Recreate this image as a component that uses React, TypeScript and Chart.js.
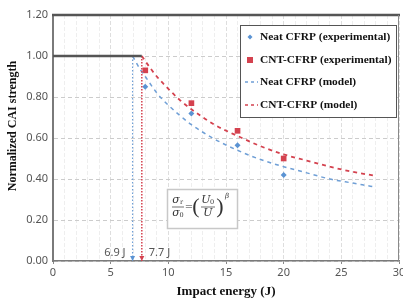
import React, { useEffect, useRef } from 'react';
import { Chart, registerables } from 'chart.js';

Chart.register(...registerables);

// ---- data ----
const neatEnergy = [8, 12, 16, 20];
const neatStrength = [0.85, 0.72, 0.565, 0.42];
const cntEnergy = [8, 12, 16, 20];
const cntStrength = [0.93, 0.77, 0.635, 0.5];
const neatModelEnergy = [6.9, 7.5, 8, 9, 10, 11, 12, 14, 16, 18, 20, 22, 24, 26, 28];
const neatModelStrength = [1.0, 0.94, 0.9, 0.82, 0.76, 0.71, 0.665, 0.595, 0.54, 0.495, 0.46, 0.43, 0.4, 0.38, 0.36];
const cntModelEnergy = [7.7, 8, 9, 10, 11, 12, 14, 16, 18, 20, 22, 24, 26, 28];
const cntModelStrength = [1.0, 0.975, 0.9, 0.84, 0.785, 0.74, 0.665, 0.61, 0.56, 0.52, 0.49, 0.46, 0.435, 0.415];
const plateauEnergy = [0, 7.7];
const plateauStrength = [1.0, 1.0];
const thresholdNeat = 6.9;
const thresholdCnt = 7.7;
const thresholdLabels = ['6.9 J', '7.7 J'];
const legendLabels = ['Neat CFRP (experimental)', 'CNT-CFRP (experimental)', 'Neat CFRP (model)', 'CNT-CFRP (model)'];
const xTitle = 'Impact energy (J)';
const yTitle = 'Normalized CAI strength';

const BLUE = '#5b93d3';
const BLUE_LINE = '#6f9fd6';
const RED = '#d4424f';
const SERIF = '"Liberation Serif", "Times New Roman", serif';
const SANS = '"Noto Sans", "Open Sans", sans-serif';
const toPts = (xs: number[], ys: number[]) => xs.map((x, i) => ({ x, y: ys[i] }));

const overlay = {
  id: 'overlay',
  afterDatasetsDraw(chart: any) {
    const { ctx, chartArea: a, scales } = chart;
    const xs = scales.x;
    const ys = scales.y;
    ctx.save();
    // frame
    ctx.strokeStyle = '#555';
    ctx.lineWidth = 2.5;
    ctx.beginPath();
    ctx.moveTo(a.left - 1, a.top);
    ctx.lineTo(a.right + 1, a.top);
    ctx.stroke();
    ctx.strokeStyle = '#8a8a8a';
    ctx.lineWidth = 1;
    ctx.beginPath();
    ctx.moveTo(a.right - 0.5, a.top);
    ctx.lineTo(a.right - 0.5, a.bottom);
    ctx.stroke();

    // y title
    ctx.save();
    ctx.translate(13, 126);
    ctx.rotate(-Math.PI / 2);
    ctx.font = 'bold 12px ' + SERIF;
    ctx.fillStyle = '#111';
    ctx.textAlign = 'center';
    ctx.textBaseline = 'middle';
    ctx.fillText(yTitle, 0, 0);
    ctx.restore();

    // arrowheads
    const arrow = (x: number, color: string) => {
      const px = xs.getPixelForValue(x);
      const py = ys.getPixelForValue(0);
      ctx.fillStyle = color;
      ctx.beginPath();
      ctx.moveTo(px - 2.5, py - 5);
      ctx.lineTo(px + 2.5, py - 5);
      ctx.lineTo(px, py);
      ctx.closePath();
      ctx.fill();
    };
    arrow(thresholdNeat, BLUE);
    arrow(thresholdCnt, RED);

    // threshold labels
    ctx.font = '11px ' + SANS;
    ctx.fillStyle = '#555';
    ctx.textBaseline = 'middle';
    ctx.textAlign = 'right';
    ctx.fillText(thresholdLabels[0], xs.getPixelForValue(thresholdNeat) - 7, ys.getPixelForValue(0) - 8);
    ctx.textAlign = 'left';
    ctx.fillText(thresholdLabels[1], xs.getPixelForValue(thresholdCnt) + 7, ys.getPixelForValue(0) - 8);

    // legend
    const lx = 240, ly = 25, lw = 156, lh = 92;
    ctx.fillStyle = '#fff';
    ctx.fillRect(lx, ly, lw, lh);
    ctx.strokeStyle = '#555';
    ctx.lineWidth = 1;
    ctx.strokeRect(lx + 0.5, ly + 0.5, lw, lh);
    const rows = [37, 60, 82, 105];
    ctx.font = 'bold 11.4px ' + SERIF;
    ctx.textAlign = 'left';
    ctx.textBaseline = 'middle';
    rows.forEach((ry, i) => {
      if (i === 0) {
        ctx.fillStyle = BLUE;
        ctx.beginPath();
        ctx.moveTo(250, ry - 2.5);
        ctx.lineTo(252.5, ry);
        ctx.lineTo(250, ry + 2.5);
        ctx.lineTo(247.5, ry);
        ctx.closePath();
        ctx.fill();
      } else if (i === 1) {
        ctx.fillStyle = RED;
        ctx.fillRect(247, ry - 3, 6, 6);
      } else {
        ctx.strokeStyle = i === 2 ? BLUE_LINE : RED;
        ctx.lineWidth = 1.5;
        ctx.setLineDash([3, 3]);
        ctx.beginPath();
        ctx.moveTo(245, ry);
        ctx.lineTo(258, ry);
        ctx.stroke();
        ctx.setLineDash([]);
      }
      ctx.fillStyle = '#111';
      ctx.fillText(legendLabels[i], 260, ry);
    });

    // formula box
    const fx = 167, fy = 189, fw = 70, fh = 39;
    ctx.fillStyle = '#e4e4e4';
    ctx.fillRect(fx + 1, fy + 1, fw, fh);
    ctx.fillStyle = '#fff';
    ctx.fillRect(fx, fy, fw, fh);
    ctx.strokeStyle = '#c8c8c8';
    ctx.strokeRect(fx + 0.5, fy + 0.5, fw, fh);
    ctx.fillStyle = '#333';
    ctx.strokeStyle = '#333';
    ctx.lineWidth = 0.7;
    ctx.textAlign = 'center';
    ctx.textBaseline = 'middle';
    const mid = 207;
    ctx.font = 'italic 11px "DejaVu Serif", serif';
    ctx.fillText('σ', 176, mid - 7);
    ctx.fillText('σ', 176, mid + 6);
    ctx.font = '6.5px "DejaVu Serif", serif';
    ctx.fillText('r', 181.5, mid - 5);
    ctx.fillText('0', 181.5, mid + 8);
    ctx.beginPath();
    ctx.moveTo(172, mid);
    ctx.lineTo(184, mid);
    ctx.stroke();
    ctx.font = '10px "DejaVu Serif", serif';
    ctx.fillText('=', 189, mid);
    ctx.font = '22px "Liberation Serif", serif';
    ctx.fillText('(', 196, mid);
    ctx.fillText(')', 220, mid);
    ctx.font = 'italic 11px "DejaVu Serif", serif';
    ctx.fillText('U', 206, mid - 7);
    ctx.fillText('U', 208, mid + 6);
    ctx.font = '6.5px "DejaVu Serif", serif';
    ctx.fillText('0', 212, mid - 5);
    ctx.beginPath();
    ctx.moveTo(201, mid);
    ctx.lineTo(215, mid);
    ctx.stroke();
    ctx.font = 'italic 7px "DejaVu Serif", serif';
    ctx.fillText('β', 227, mid - 11);
    ctx.restore();
  },
};

export default function App() {
  const ref = useRef<HTMLCanvasElement | null>(null);
  useEffect(() => {
    document.body.style.margin = '0';
    const canvas = ref.current;
    if (!canvas) return;
    const chart = new Chart(canvas, {
      type: 'scatter',
      data: {
        datasets: [
          {
            label: 'plateau',
            data: toPts(plateauEnergy, plateauStrength),
            showLine: true,
            borderColor: '#555',
            borderWidth: 2.5,
            pointRadius: 0,
          },
          {
            label: 'neatDrop',
            data: [{ x: thresholdNeat, y: 1 }, { x: thresholdNeat, y: 0 }],
            showLine: true,
            borderColor: BLUE_LINE,
            borderWidth: 1.2,
            borderDash: [1.5, 2],
            pointRadius: 0,
          },
          {
            label: 'cntDrop',
            data: [{ x: thresholdCnt, y: 1 }, { x: thresholdCnt, y: 0 }],
            showLine: true,
            borderColor: RED,
            borderWidth: 1.5,
            borderDash: [1.5, 1.5],
            pointRadius: 0,
          },
          {
            label: legendLabels[2],
            data: toPts(neatModelEnergy, neatModelStrength),
            showLine: true,
            borderColor: BLUE_LINE,
            borderWidth: 1.5,
            borderDash: [4, 4],
            cubicInterpolationMode: 'monotone',
            pointRadius: 0,
          },
          {
            label: legendLabels[3],
            data: toPts(cntModelEnergy, cntModelStrength),
            showLine: true,
            borderColor: RED,
            borderWidth: 1.8,
            borderDash: [4, 4],
            cubicInterpolationMode: 'monotone',
            pointRadius: 0,
          },
          {
            label: legendLabels[0],
            data: toPts(neatEnergy, neatStrength),
            pointStyle: 'rectRot',
            pointRadius: 3,
            backgroundColor: BLUE,
            borderColor: BLUE,
            borderWidth: 0,
          },
          {
            label: legendLabels[1],
            data: toPts(cntEnergy, cntStrength),
            pointStyle: 'rect',
            pointRadius: 4,
            backgroundColor: RED,
            borderColor: RED,
            borderWidth: 0,
          },
        ],
      },
      options: {
        animation: false,
        responsive: false,
        layout: { padding: { top: 15, right: 4, left: 0, bottom: 0 } },
        plugins: { legend: { display: false }, tooltip: { enabled: false } },
        scales: {
          x: {
            type: 'linear',
            min: 0,
            max: 30,
            afterFit: (s: any) => {
              s.height = 40;
              s.paddingRight = 0;
              s.paddingLeft = 0;
            },
            ticks: {
              stepSize: 1,
              autoSkip: false,
              maxRotation: 0,
              padding: 2,
              color: '#555',
              font: { family: SANS, size: 11 },
              callback: (v: any) => (Number(v) % 5 === 0 ? String(v) : ''),
            },
            grid: {
              color: (c: any) => (c.tick && c.tick.value % 5 === 0 ? '#dedede' : '#eeeeee'),
              tickColor: (c: any) => (c.tick && c.tick.value % 5 === 0 ? '#888' : 'rgba(0,0,0,0)'),
              tickLength: 3,
            },
            border: { color: '#7a7a7a', width: 1.5, dash: [4, 2] } as any,
            title: {
              display: true,
              text: xTitle,
              color: '#111',
              font: { family: SERIF, size: 13, weight: 'bold' },
              padding: { top: 0, bottom: 2 },
            },
          },
          y: {
            min: 0,
            max: 1.2,
            afterFit: (s: any) => {
              s.width = 53;
              s.paddingTop = 0;
              s.paddingBottom = 0;
            },
            ticks: {
              stepSize: 0.2,
              padding: 5,
              color: '#555',
              font: { family: SANS, size: 11 },
              callback: (v: any) => Number(v).toFixed(2),
            },
            grid: { color: '#cccccc', tickLength: 0 },
            border: { color: '#7a7a7a', width: 2, dash: [4, 3] } as any,
            title: { display: false },
          },
        },
      },
      plugins: [overlay],
    } as any);
    return () => chart.destroy();
  }, []);
  return (
    <div style={{ width: 403, height: 301, background: '#fff' }}>
      <canvas ref={ref} width={403} height={301} style={{ display: 'block' }} />
    </div>
  );
}
